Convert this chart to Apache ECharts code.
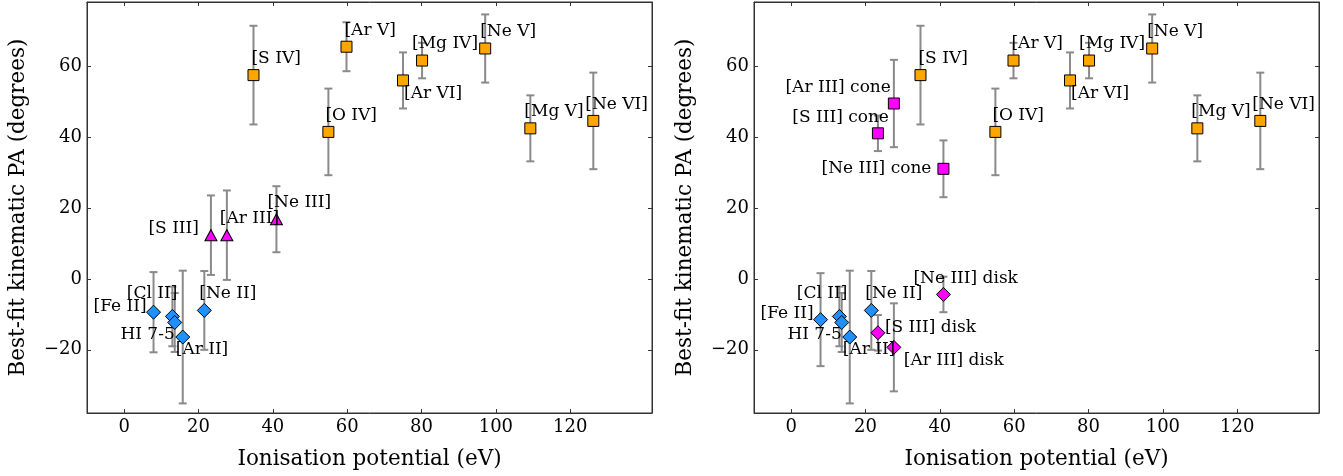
<!DOCTYPE html>
<html>
<head>
<meta charset="utf-8">
<script src="https://cdn.jsdelivr.net/npm/echarts@6/dist/echarts.min.js"></script>
<style>
html,body{margin:0;padding:0;background:#fff;}
#chart{width:1343px;height:476px;}
</style>
</head>
<body>
<div id="chart"></div>
<script>
// ---------------- data ----------------
const xTicks = [0, 20, 40, 60, 80, 100, 120];
const yTicks = [-20, 0, 20, 40, 60];

// low-ionisation lines (blue diamonds)
const lowNames = ['[Fe II]', '[Cl II]', 'HI 7-5', '[Ar II]', '[Ne II]'];
const lowIP = [7.90, 12.97, 13.60, 15.76, 21.56];
const lowPA_L = [-9.4, -10.6, -12.3, -16.4, -8.9];
const lowErr_L = [11.3, 8.4, 8.3, 18.7, 11.1];
const lowPA_R = [-11.5, -10.6, -12.3, -16.4, -8.9];
const lowErr_R = [13.1, 8.4, 8.3, 18.7, 11.1];

// intermediate lines, left panel (magenta triangles)
const midNames = ['[S III]', '[Ar III]', '[Ne III]'];
const midIP = [23.34, 27.63, 40.96];
const midPA = [12.3, 12.3, 16.8];
const midErr = [11.2, 12.6, 9.3];

// high-ionisation lines (orange squares)
const highNames = ['[S IV]', '[O IV]', '[Ar V]', '[Ar VI]', '[Mg IV]', '[Ne V]', '[Mg V]', '[Ne VI]'];
const highIP = [34.79, 54.94, 59.81, 75.02, 80.14, 97.12, 109.27, 126.21];
const highPA_L = [57.4, 41.4, 65.4, 55.9, 61.5, 64.9, 42.4, 44.5];
const highErr_L = [13.9, 12.2, 6.9, 7.9, 5.0, 9.6, 9.3, 13.6];
const highPA_R = [57.4, 41.4, 61.5, 55.9, 61.5, 64.9, 42.4, 44.5];
const highErr_R = [13.9, 12.2, 5.0, 7.9, 5.0, 9.6, 9.3, 13.6];

// right panel: cone (magenta squares) and disk (magenta diamonds)
const coneNames = ['[S III] cone', '[Ar III] cone', '[Ne III] cone'];
const coneIP = [23.34, 27.63, 40.96];
const conePA = [41.0, 49.4, 31.0];
const coneErr = [5.0, 12.3, 8.0];
const diskNames = ['[S III] disk', '[Ar III] disk', '[Ne III] disk'];
const diskIP = [23.34, 27.63, 40.96];
const diskPA = [-15.2, -19.3, -4.4];
const diskErr = [5.0, 12.4, 5.0];

// ---------------- label placement (style) ----------------
// [align, verticalAlign, dx, dy] relative to the marker centre
const lowPlaceL = [['right','middle',-7,-6],['right','bottom',5,-14],['right','middle',0,12],['left','top',-7,4],['left','bottom',-5,-8]];
const lowPlaceR = [['right','middle',-7,-6],['right','bottom',8,-14],['right','middle',0,12],['left','top',-7,4],['left','bottom',-6,-8]];
const midPlace = [['right','middle',-12,-7],['left','bottom',-7,-8],['left','bottom',-9,-8]];
const highPlace = [['left','bottom',-2,-8],['left','bottom',-3,-8],['left','bottom',-2,-8],['left','top',1,5],['left','bottom',-10,-8],['left','bottom',-5,-8],['left','bottom',-6,-8],['left','bottom',-8,-8]];
const conePlace = [['right','bottom',11,-7],['right','bottom',-3,-7],['right','middle',-12,0]];
const diskPlace = [['left','middle',7,-5],['left','top',10,5],['left','bottom',-30,-7]];

const FONT = 'DejaVu Serif';
const ORANGE = '#FFA500', BLUE = '#1E90FF', MAGENTA = '#FF00FF';
const ERRCOL = '#8a8a8a';

function fmt(v) { return v < 0 ? '\u2212' + Math.abs(v) : String(v); }

function makeAxes(gi) {
  const xs = [
    { gridIndex: gi, type: 'value', min: -10, max: 142, position: 'bottom',
      name: 'Ionisation potential (eV)', nameLocation: 'middle', nameGap: 35, nameMoveOverlap: false,
      nameTextStyle: { fontFamily: FONT, fontSize: 21.5, color: '#000' },
      axisLine: { show: true, onZero: false, lineStyle: { color: '#333', width: 1 } },
      axisTick: { show: true, inside: true, length: 4, customValues: xTicks, lineStyle: { color: '#333' } },
      axisLabel: { show: true, customValues: xTicks, margin: 5, formatter: fmt, fontFamily: FONT, fontSize: 18, color: '#000' },
      splitLine: { show: false } },
    { gridIndex: gi, type: 'value', min: -10, max: 142, position: 'top',
      axisLine: { show: true, onZero: false, lineStyle: { color: '#333', width: 1 } },
      axisTick: { show: true, inside: true, length: 4, customValues: xTicks, lineStyle: { color: '#333' } },
      axisLabel: { show: false }, splitLine: { show: false } }
  ];
  const ys = [
    { gridIndex: gi, type: 'value', min: -37.8, max: 78, position: 'left',
      name: 'Best-fit kinematic PA (degrees)', nameLocation: 'middle', nameGap: 58, nameRotate: 90, nameMoveOverlap: false,
      nameTextStyle: { fontFamily: FONT, fontSize: 21.5, color: '#000' },
      axisLine: { show: true, onZero: false, lineStyle: { color: '#333', width: 1 } },
      axisTick: { show: true, inside: true, length: 4, customValues: yTicks, lineStyle: { color: '#333' } },
      axisLabel: { show: true, customValues: yTicks, margin: 5, formatter: fmt, fontFamily: FONT, fontSize: 18, color: '#000' },
      splitLine: { show: false } },
    { gridIndex: gi, type: 'value', min: -37.8, max: 78, position: 'right',
      axisLine: { show: true, onZero: false, lineStyle: { color: '#333', width: 1 } },
      axisTick: { show: true, inside: true, length: 4, customValues: yTicks, lineStyle: { color: '#333' } },
      axisLabel: { show: false }, splitLine: { show: false } }
  ];
  return { xs, ys };
}

function errSeries(ax, ip, pa, err) {
  return {
    type: 'custom', xAxisIndex: ax, yAxisIndex: ax, z: 1, silent: true,
    data: ip.map((x, i) => [x, pa[i], err[i]]),
    renderItem: function (params, api) {
      const x = api.value(0), y = api.value(1), e = api.value(2);
      const t = api.coord([x, y + e]), b = api.coord([x, y - e]);
      const st = { stroke: ERRCOL, lineWidth: 2 };
      const cw = 4;
      return { type: 'group', children: [
        { type: 'line', shape: { x1: t[0], y1: t[1], x2: b[0], y2: b[1] }, style: st },
        { type: 'line', shape: { x1: t[0] - cw, y1: t[1], x2: t[0] + cw, y2: t[1] }, style: st },
        { type: 'line', shape: { x1: b[0] - cw, y1: b[1], x2: b[0] + cw, y2: b[1] }, style: st }
      ] };
    }
  };
}

function ptSeries(ax, names, ip, pa, place, symbol, size, color) {
  return {
    type: 'scatter', xAxisIndex: ax, yAxisIndex: ax, z: 3,
    symbol: symbol, symbolSize: size,
    itemStyle: { color: color, borderColor: '#000', borderWidth: 1, opacity: 1 },
    data: ip.map((x, i) => ({
      value: [x, pa[i]], name: names[i],
      label: { align: place[i][0], verticalAlign: place[i][1], offset: [place[i][2], place[i][3]] }
    })),
    label: { show: true, position: 'inside', formatter: p => p.name,
      fontFamily: FONT, fontSize: 17, color: '#000', textBorderWidth: 0 },
    emphasis: { disabled: true }
  };
}

const A0 = makeAxes(0), A1 = makeAxes(1);
const option = {
  animation: false,
  backgroundColor: '#fff',
  grid: [
    { left: 87, top: 2, width: 565, height: 411, show: true, borderColor: '#333', borderWidth: 1 },
    { left: 754, top: 2, width: 565, height: 411, show: true, borderColor: '#333', borderWidth: 1 }
  ],
  xAxis: [...A0.xs, ...A1.xs],
  yAxis: [...A0.ys, ...A1.ys],
  series: [
    // left panel
    errSeries(0, lowIP, lowPA_L, lowErr_L),
    errSeries(0, midIP, midPA, midErr),
    errSeries(0, highIP, highPA_L, highErr_L),
    ptSeries(0, highNames, highIP, highPA_L, highPlace, 'rect', 11, ORANGE),
    ptSeries(0, midNames, midIP, midPA, midPlace, 'triangle', [12, 11], MAGENTA),
    ptSeries(0, lowNames, lowIP, lowPA_L, lowPlaceL, 'diamond', 14, BLUE),
    // right panel
    errSeries(2, lowIP, lowPA_R, lowErr_R),
    errSeries(2, coneIP, conePA, coneErr),
    errSeries(2, diskIP, diskPA, diskErr),
    errSeries(2, highIP, highPA_R, highErr_R),
    ptSeries(2, highNames, highIP, highPA_R, highPlace, 'rect', 11, ORANGE),
    ptSeries(2, coneNames, coneIP, conePA, conePlace, 'rect', 11, MAGENTA),
    ptSeries(2, lowNames, lowIP, lowPA_R, lowPlaceR, 'diamond', 14, BLUE),
    ptSeries(2, diskNames, diskIP, diskPA, diskPlace, 'diamond', 14, MAGENTA)
  ]
};
const chart = echarts.init(document.getElementById('chart'), null, { renderer: 'canvas' });
chart.setOption(option);
</script>
</body>
</html>
